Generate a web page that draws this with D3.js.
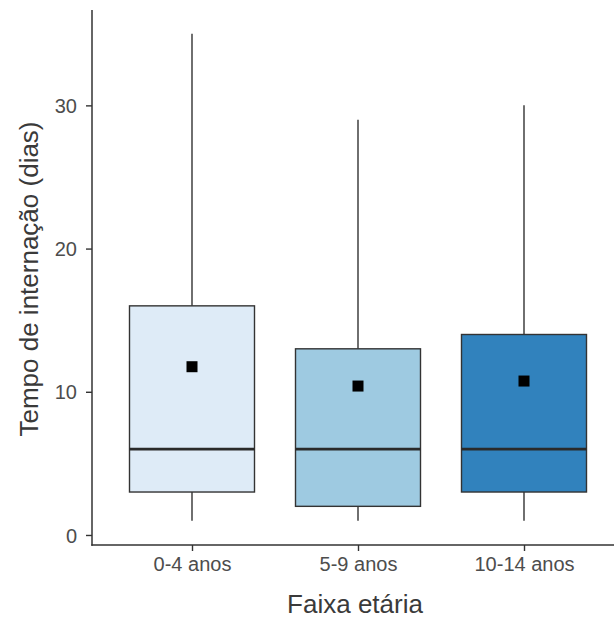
<!DOCTYPE html>
<html>
<head>
<meta charset="utf-8">
<script src="https://cdn.jsdelivr.net/npm/d3@7/dist/d3.min.js"></script>
<style>
  html, body { margin: 0; padding: 0; background: #fff; }
  svg { display: block; font-family: "Liberation Sans", Arial, Helvetica, sans-serif; }
</style>
</head>
<body>
<svg id="chart" width="614" height="618"></svg>
<script>
// Length of stay by age group: box statistics per group
const categories = ["0-4 anos", "5-9 anos", "10-14 anos"];
const whiskerLow = [1, 1, 1];
const q1 = [3, 2, 3];
const medians = [6, 6, 6];
const q3 = [16, 13, 14];
const whiskerHigh = [35, 29, 30];
const means = [11.75, 10.4, 10.75];
const fills = ["#DEEBF7", "#9ECAE1", "#3182BD"];
const yTicks = [0, 10, 20, 30];

const xTitle = "Faixa etária";
const yTitle = "Tempo de internação (dias)";

const svg = d3.select("#chart");
const axisLeftX = 92, axisBottomY = 545, plotTop = 10;

const y = d3.scaleLinear().domain([-0.7, 36.66]).range([axisBottomY, plotTop]);
const x = d3.scalePoint().domain(categories).range([92.4, 623.6]).padding(0.6);
const boxW = x.step() * 0.753;

const stroke = "#333333";

const data = categories.map((c, i) => ({
  cat: c, lo: whiskerLow[i], q1: q1[i], med: medians[i], q3: q3[i],
  hi: whiskerHigh[i], mean: means[i], fill: fills[i]
}));

const g = svg.append("g");
const groups = g.selectAll("g.box").data(data).join("g").attr("class", "box");

// whiskers
groups.append("line")
  .attr("x1", d => x(d.cat)).attr("x2", d => x(d.cat))
  .attr("y1", d => y(d.q3)).attr("y2", d => y(d.hi))
  .attr("stroke", stroke).attr("stroke-width", 1.4);
groups.append("line")
  .attr("x1", d => x(d.cat)).attr("x2", d => x(d.cat))
  .attr("y1", d => y(d.q1)).attr("y2", d => y(d.lo))
  .attr("stroke", stroke).attr("stroke-width", 1.4);

// boxes
groups.append("rect")
  .attr("x", d => x(d.cat) - boxW / 2)
  .attr("width", boxW)
  .attr("y", d => y(d.q3))
  .attr("height", d => y(d.q1) - y(d.q3))
  .attr("fill", d => d.fill)
  .attr("stroke", stroke).attr("stroke-width", 1.4);

// medians
groups.append("line")
  .attr("x1", d => x(d.cat) - boxW / 2).attr("x2", d => x(d.cat) + boxW / 2)
  .attr("y1", d => y(d.med)).attr("y2", d => y(d.med))
  .attr("stroke", "#2a2a2a").attr("stroke-width", 2.8);

// means
const sq = 11;
groups.append("rect")
  .attr("x", d => x(d.cat) - sq / 2)
  .attr("y", d => y(d.mean) - sq / 2)
  .attr("width", sq).attr("height", sq)
  .attr("fill", "#000");

// y axis
const yAxis = g.append("g")
  .attr("transform", `translate(${axisLeftX},0)`)
  .call(d3.axisLeft(y).tickValues(yTicks).tickSize(6).tickPadding(9));
yAxis.select(".domain").remove();
yAxis.selectAll(".tick line").attr("stroke", stroke).attr("stroke-width", 1.4);
yAxis.selectAll(".tick text").attr("fill", "#4d4d4d").style("font-size", "20px").attr("dy", "0.36em");
g.append("line")
  .attr("x1", axisLeftX).attr("x2", axisLeftX)
  .attr("y1", plotTop).attr("y2", axisBottomY + 0.7)
  .attr("stroke", stroke).attr("stroke-width", 1.5);

// x axis
const xAxis = g.append("g")
  .attr("transform", `translate(0,${axisBottomY})`)
  .call(d3.axisBottom(x).tickSize(6).tickPadding(6));
xAxis.select(".domain").remove();
xAxis.selectAll(".tick line").attr("stroke", stroke).attr("stroke-width", 1.4);
xAxis.selectAll(".tick text").attr("fill", "#4d4d4d").style("font-size", "20px").attr("dy", "0.71em");
g.append("line")
  .attr("x1", axisLeftX - 0.7).attr("x2", 614)
  .attr("y1", axisBottomY).attr("y2", axisBottomY)
  .attr("stroke", stroke).attr("stroke-width", 1.5);

// axis titles
svg.append("text")
  .attr("x", 355).attr("y", 613)
  .attr("text-anchor", "middle")
  .attr("fill", "#3a3a3a")
  .style("font-size", "26px")
  .text(xTitle);

svg.append("text")
  .attr("transform", "translate(38,279) rotate(-90)")
  .attr("text-anchor", "middle")
  .attr("fill", "#3a3a3a")
  .style("font-size", "26px")
  .text(yTitle);
</script>
</body>
</html>
